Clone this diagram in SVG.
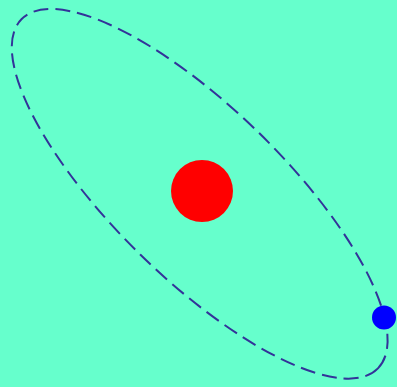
<svg xmlns="http://www.w3.org/2000/svg" width="397" height="387" viewBox="0 0 397 387">
<style>
.orbit{fill:none;stroke:#333399;stroke-width:2;stroke-dasharray:15,7}
</style>
<rect width="397" height="387" fill="#66FFCC"/>
<ellipse class="orbit" cx="199.7" cy="193.8" rx="249.5" ry="85" transform="rotate(44.4 199.7 193.8)"/>
<circle cx="202" cy="191" r="31" fill="#FF0000"/>
<circle cx="384" cy="317.5" r="12" fill="#0000FF"/>
</svg>
